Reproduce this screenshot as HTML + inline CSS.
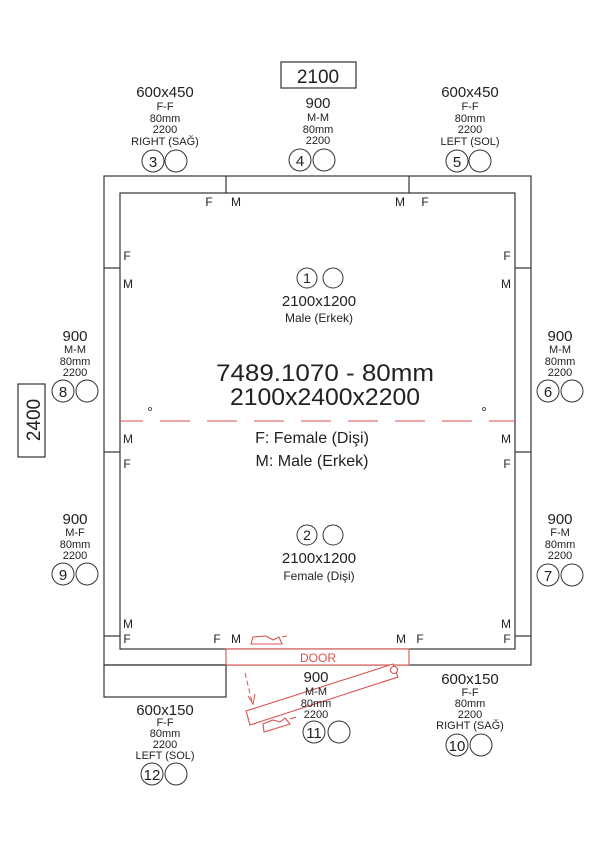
<!DOCTYPE html>
<html><head><meta charset="utf-8"><style>
html,body{margin:0;padding:0;background:#fff;}
svg{display:block;font-family:"Liberation Sans",sans-serif;}
</style></head><body>
<svg width="601" height="850" viewBox="0 0 601 850" xmlns="http://www.w3.org/2000/svg">
<g fill="none" stroke="#333" stroke-width="1.2">
<rect x="104" y="176" width="427" height="489"/>
<rect x="120" y="193" width="395" height="456"/>
<line x1="226" y1="176" x2="226" y2="193"/>
<line x1="409" y1="176" x2="409" y2="193"/>
<line x1="104" y1="268" x2="120" y2="268"/>
<line x1="104" y1="452" x2="120" y2="452"/>
<line x1="104" y1="636" x2="120" y2="636"/>
<line x1="515" y1="268" x2="531" y2="268"/>
<line x1="515" y1="452" x2="531" y2="452"/>
<line x1="515" y1="636" x2="531" y2="636"/>
<rect x="104" y="665" width="122" height="32"/>
<rect x="281" y="62" width="75" height="26"/>
<rect x="18" y="384" width="27" height="73"/>
</g>
<g fill="#fff" stroke="#d9534f" stroke-width="1.1">
<rect x="226" y="649" width="183" height="16"/>
<polygon points="246,711 393,664 398,677 250,725"/>
<circle cx="394" cy="670" r="3.5"/>
<path d="M251 644 L253 637 L266 636 L273 640 L279 637 L282 644 Z M282 637 L287 636" fill="none"/>
<path d="M264 732 L263 724 L273 720 L280 722 L285 718 L290 724 Z M290 719 L296 717" fill="none"/>
</g>
<line x1="245" y1="673" x2="252" y2="702" stroke="#d9534f" stroke-width="1" stroke-dasharray="5,3"/>
<path d="M248 696 L253 704 L255 694" fill="none" stroke="#d9534f" stroke-width="1"/>
<line x1="120" y1="421" x2="515" y2="421" stroke="#d9534f" stroke-width="1" stroke-dasharray="30,17" stroke-dashoffset="7"/>
<circle cx="150" cy="409" r="1.5" fill="none" stroke="#333" stroke-width="0.8"/>
<circle cx="484" cy="409" r="1.5" fill="none" stroke="#333" stroke-width="0.8"/>
<text x="318" y="662" font-size="12" fill="#d9534f" text-anchor="middle">DOOR</text>

<g fill="#222" text-anchor="middle">
<text x="318" y="83" font-size="19">2100</text>
<text x="40" y="420" font-size="19" transform="rotate(-90 40 420)">2400</text>

<text x="325" y="381" font-size="24" textLength="218" lengthAdjust="spacingAndGlyphs">7489.1070 - 80mm</text>
<text x="325" y="405" font-size="24" textLength="190" lengthAdjust="spacingAndGlyphs">2100x2400x2200</text>
<text x="312" y="443" font-size="16">F: Female (Dişi)</text>
<text x="312" y="466" font-size="16">M: Male (Erkek)</text>

<text x="319" y="306" font-size="15">2100x1200</text>
<text x="319" y="322" font-size="12">Male (Erkek)</text>
<text x="319" y="563" font-size="15">2100x1200</text>
<text x="319" y="580" font-size="12">Female (Dişi)</text>

<g font-size="15">
<text x="165" y="97">600x450</text>
<text x="318" y="108">900</text>
<text x="470" y="97">600x450</text>
<text x="75" y="341">900</text>
<text x="560" y="341">900</text>
<text x="75" y="524">900</text>
<text x="560" y="524">900</text>
<text x="316" y="682">900</text>
<text x="470" y="684">600x150</text>
<text x="165" y="715">600x150</text>
</g>
<g font-size="11">
<text x="165" y="110">F-F</text><text x="165" y="122">80mm</text><text x="165" y="133">2200</text><text x="165" y="145">RIGHT (SAĞ)</text>
<text x="318" y="121">M-M</text><text x="318" y="133">80mm</text><text x="318" y="144">2200</text>
<text x="470" y="110">F-F</text><text x="470" y="122">80mm</text><text x="470" y="133">2200</text><text x="470" y="145">LEFT (SOL)</text>
<text x="75" y="353">M-M</text><text x="75" y="365">80mm</text><text x="75" y="376">2200</text>
<text x="560" y="353">M-M</text><text x="560" y="365">80mm</text><text x="560" y="376">2200</text>
<text x="75" y="536">M-F</text><text x="75" y="548">80mm</text><text x="75" y="559">2200</text>
<text x="560" y="536">F-M</text><text x="560" y="548">80mm</text><text x="560" y="559">2200</text>
<text x="316" y="695">M-M</text><text x="316" y="707">80mm</text><text x="316" y="718">2200</text>
<text x="470" y="696">F-F</text><text x="470" y="707">80mm</text><text x="470" y="718">2200</text><text x="470" y="729">RIGHT (SAĞ)</text>
<text x="165" y="726">F-F</text><text x="165" y="737">80mm</text><text x="165" y="748">2200</text><text x="165" y="759">LEFT (SOL)</text>
</g>
</g>

<g fill="none" stroke="#333" stroke-width="1">
<circle cx="153" cy="161" r="11"/><circle cx="176" cy="161" r="11"/>
<circle cx="300" cy="160" r="11"/><circle cx="324" cy="160" r="11"/>
<circle cx="457" cy="161" r="11"/><circle cx="480" cy="161" r="11"/>
<circle cx="63" cy="391" r="11"/><circle cx="87" cy="391" r="11"/>
<circle cx="548" cy="391" r="11"/><circle cx="572" cy="391" r="11"/>
<circle cx="63" cy="574" r="11"/><circle cx="87" cy="574" r="11"/>
<circle cx="548" cy="575" r="11"/><circle cx="572" cy="575" r="11"/>
<circle cx="314" cy="732" r="11"/><circle cx="339" cy="732" r="11"/>
<circle cx="457" cy="745" r="11"/><circle cx="481" cy="745" r="11"/>
<circle cx="152" cy="774" r="11"/><circle cx="176" cy="774" r="11"/>
<circle cx="307" cy="278" r="10"/><circle cx="333" cy="278" r="10"/>
<circle cx="307" cy="535" r="10"/><circle cx="333" cy="535" r="10"/>
</g>
<g fill="#222" font-size="15" text-anchor="middle">
<text x="153" y="167">3</text><text x="300" y="166">4</text><text x="457" y="167">5</text>
<text x="63" y="397">8</text><text x="548" y="397">6</text><text x="63" y="580">9</text><text x="548" y="581">7</text>
<text x="314" y="738">11</text><text x="457" y="751">10</text><text x="152" y="780">12</text>
<text x="307" y="283" font-size="14">1</text><text x="307" y="540" font-size="14">2</text>
</g>
<g fill="#222" font-size="12" text-anchor="middle">
<text x="209" y="206">F</text><text x="236" y="206">M</text><text x="400" y="206">M</text><text x="425" y="206">F</text>
<text x="127" y="260">F</text><text x="128" y="288">M</text><text x="128" y="443">M</text><text x="127" y="468">F</text><text x="128" y="628">M</text><text x="127" y="643">F</text>
<text x="507" y="260">F</text><text x="506" y="288">M</text><text x="506" y="443">M</text><text x="507" y="468">F</text><text x="506" y="628">M</text><text x="507" y="643">F</text>
<text x="217" y="643">F</text><text x="236" y="643">M</text><text x="401" y="643">M</text><text x="420" y="643">F</text>
</g>
</svg>
</body></html>
